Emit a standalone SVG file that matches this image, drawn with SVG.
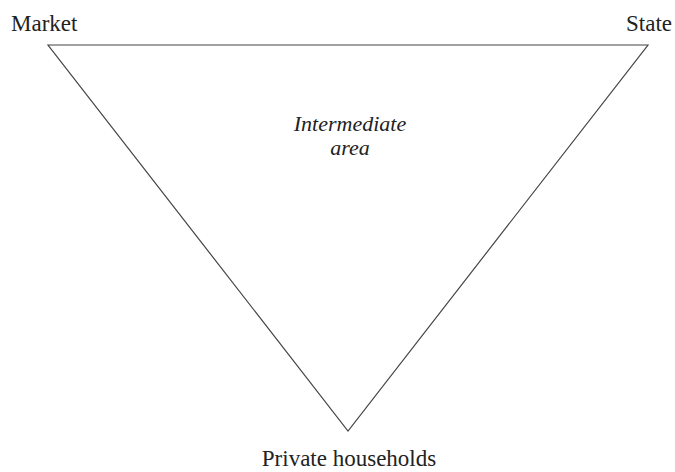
<svg xmlns="http://www.w3.org/2000/svg" width="675" height="472" viewBox="0 0 675 472">
<style>
text{font-family:'Liberation Serif','DejaVu Serif',serif;fill:#222}
.lbl{font-size:23px}
.it{font-size:22px;font-style:italic;text-anchor:middle}
.edge{fill:none;stroke:#444;stroke-width:1.2}
</style>
<rect width="675" height="472" fill="#fff"/>
<g id="connectors">
<polygon class="edge" points="48,45 648,45 348,431"/>
</g>
<g id="market"><text class="lbl" x="11" y="31">Market</text></g>
<g id="state"><text class="lbl" x="672" y="31" text-anchor="end">State</text></g>
<g id="intermediate"><text class="it" x="350" y="131">Intermediate</text><text class="it" x="350" y="155">area</text></g>
<g id="households"><text class="lbl" x="349" y="466" text-anchor="middle">Private households</text></g>
</svg>
